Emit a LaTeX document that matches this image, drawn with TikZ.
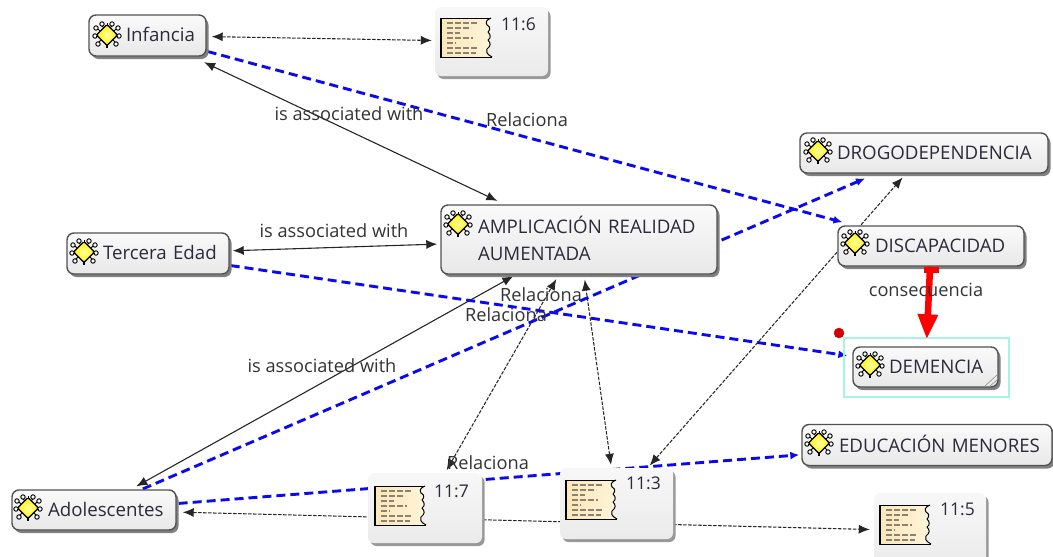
\documentclass[tikz,border=0pt]{standalone}
\usepackage{fontspec}
\setmainfont{Open Sans}
\usetikzlibrary{arrows.meta,shadows,calc}
\pgfdeclarelayer{bg}
\pgfsetlayers{bg,main}
\definecolor{inktext}{HTML}{2B2B3A}
\definecolor{labeltext}{HTML}{333333}
\definecolor{linkblue}{HTML}{0A0AF0}
\definecolor{seltint}{HTML}{A5F5E2}
\definecolor{doctan}{HTML}{FBE6B8}
\definecolor{docpale}{HTML}{FFF5DA}
\definecolor{docdash}{HTML}{8A8272}
\newcommand{\ctext}[2][1.5pt]{\hspace*{37pt}\raisebox{#1}{#2}}
\tikzset{
  x=1pt,y=-1pt,
  conceptbox/.style={draw=black!68,line width=1.4pt,rounded corners=7pt,top color=white!98!black,bottom color=black!9,
    copy shadow={shadow xshift=2.5pt,shadow yshift=-3pt,draw=none,fill=black!50},
    inner sep=0pt,align=left,text=inktext,font=\fontsize{18.7}{27}\selectfont,anchor=center},
  docbox/.style={draw=none,rounded corners=6pt,top color=white!97!black,bottom color=black!8,
    copy shadow={shadow xshift=2.5pt,shadow yshift=-3pt,draw=none,fill=black!40},
    inner sep=0pt,anchor=center},
  doctext/.style={text=inktext,font=\fontsize{17.5}{20}\selectfont,inner sep=0pt},
  linklabel/.style={text=labeltext,font=\fontsize{18.2}{20}\selectfont,inner sep=0pt},
  solidlink/.style={draw=black!85,line width=1.1pt,{Latex[length=11pt,width=9pt]}-{Latex[length=11pt,width=9pt]}},
  dashlink/.style={draw=black!85,line width=1.05pt,dash pattern=on 3.5pt off 1.5pt,{Latex[length=11pt,width=9pt]}-{Latex[length=11pt,width=9pt]}},
  bluelink/.style={draw=linkblue,line width=2.9pt,dash pattern=on 9pt off 5pt,-{Latex[length=9pt,width=8pt]}},
  redlink/.style={draw=red,line width=6.5pt,-{Triangle[length=25pt,width=19pt]}},
  pics/sun/.style={code={
    \foreach \a/\b in {-5/-11,5/-11,-11/-7,11/-7,-12/1,12/1,-9/9,9/9}{
      \draw[black,line width=.95pt,fill=white] (\a,\b) circle (2.2pt);}
    \foreach \a/\b/\c/\d in {-5/-9/-3/-7,5/-9/3/-7,-9/-6/-7/-4,9/-6/7/-4,-11/1/-9/1,11/1/9/1,-8/7/-5/4,8/7/5/4,0/-12/0/-9}{
      \draw[black,line width=1pt] (\a,\b) -- (\c,\d);}
    \draw[black,line width=1.3pt,line join=round,rounded corners=1.5pt,inner color=yellow!35!white,outer color=yellow!90!orange]
      (0,-10.5) -- (10.5,0) -- (0,10.5) -- (-10.5,0) -- cycle;
    \draw[black,line width=1.1pt] (0,10) -- (0,13);
  }},
  pics/doc/.style={code={
    \path[left color=doctan,right color=docpale]
      (0,0) -- (51,0) .. controls (45,3) and (46,4) .. (47,7) .. controls (51,9) and (50,12) .. (48,14)
      .. controls (51,17) and (51,20) .. (48,22) .. controls (51,25) and (51,28) .. (47,31)
      .. controls (46,33) and (46,36) .. (52,39) -- (0,39) -- cycle;
    \draw[black,line width=1pt,line join=round]
      (51,0) .. controls (45,3) and (46,4) .. (47,7) .. controls (51,9) and (50,12) .. (48,14)
      .. controls (51,17) and (51,20) .. (48,22) .. controls (51,25) and (51,28) .. (47,31)
      .. controls (46,33) and (46,36) .. (52,39);
    \draw[black,line width=.9pt] (51,0) -- (0,0) -- (0,39) -- (52,39);
    \draw[black,line width=1.2pt] (1,0) -- (1,39);
    \foreach \yy/\xb in {5/38,10/31,15/20,20/33,25/16,30/38,35/36}{
      \draw[docdash,line width=1.4pt,dash pattern=on 6pt off 2pt] (7,\yy) -- (\xb,\yy);}
  }}
}
\begin{document}
\begin{tikzpicture}
\useasboundingbox (0,0) rectangle (1053,557);
% concept boxes
\node[conceptbox,text width=117pt,minimum height=41pt] (infancia) at (147.5,35.5) {\ctext{Infancia}};
\node[conceptbox,text width=162pt,minimum height=41pt] (tercera) at (148,253.5) {\hspace*{-1pt}\ctext{Tercera Edad}};
\node[conceptbox,text width=276pt,minimum height=69pt] (ampli) at (579,239.5) {\ctext[3pt]{AMPLICACIÓN REALIDAD}\\\ctext[3pt]{AUMENTADA}};
\node[conceptbox,text width=248pt,minimum height=40pt] (drogo) at (924,153) {\ctext{DROGODEPENDENCIA}};
\node[conceptbox,text width=186pt,minimum height=40pt] (disca) at (931,246) {\ctext{DISCAPACIDAD}};
\node[conceptbox,text width=145pt,minimum height=40pt] (demencia) at (925.5,367) {\hspace*{-1pt}\ctext{DEMENCIA}};
\node[conceptbox,text width=250pt,minimum height=41pt] (educa) at (927,445) {\ctext{EDUCACIÓN MENORES}};
\node[conceptbox,text width=164pt,minimum height=40pt] (adole) at (94,510) {\hspace*{-1pt}\ctext{Adolescentes}};
% document boxes
\node[docbox,minimum width=113pt,minimum height=69pt] (d6) at (491.5,41.5) {};
\node[docbox,minimum width=114pt,minimum height=70pt] (d7) at (425,508) {};
\node[docbox,minimum width=113pt,minimum height=71pt] (d3) at (616.5,503.5) {};
\node[docbox,minimum width=112pt,minimum height=76pt] (d5) at (930,531) {};
\pic at (440,18) {doc};
\pic at (374,486) {doc};
\pic at (565,480) {doc};
\pic at (879,505) {doc};
\node[doctext,anchor=west] (t6) at (501,24) {11:6};
\node[doctext,anchor=west] (t7) at (434,491) {11:7};
\node[doctext,anchor=west] (t3) at (626,483) {11:3};
\node[doctext,anchor=west] (t5) at (940,509) {11:5};
% concept icons
\pic at (107,35) {sun};
\pic at (84,252) {sun};
\pic at (458,224) {sun};
\pic at (818,151) {sun};
\pic at (855,243) {sun};
\pic at (870,365) {sun};
\pic at (819,443) {sun};
\pic at (28,508) {sun};
% selection
\node[draw=seltint,line width=1.4pt,minimum width=165pt,minimum height=59pt,inner sep=0pt] (sel) at (926.5,367.5) {};
\draw[black!40,line width=.7pt] (985,386) -- (997,375) (990,386) -- (997,380);
\node[circle,fill=red!85!black,draw=red!60!black,line width=.3pt,minimum size=10pt,inner sep=0pt] (dot) at (839,333) {};
% connectors
\begin{pgfonlayer}{bg}
\draw[solidlink,shorten <=13pt,shorten >=8pt] (infancia) -- (ampli);
\draw[solidlink,shorten <=3pt,shorten >=3pt] (tercera) -- (ampli);
\draw[solidlink,shorten <=6pt,shorten >=3pt] (adole) -- (ampli);
\draw[dashlink,shorten <=5pt,shorten >=3pt] (infancia) -- (d6);
\draw[dashlink,shorten <=3pt,shorten >=5pt] (d7) -- (ampli);
\draw[dashlink,shorten <=3pt,shorten >=5pt] (d3) -- (ampli);
\draw[dashlink,shorten <=3pt,shorten >=5pt] (d3) -- (drogo);
\draw[dashlink,shorten <=6pt,shorten >=4pt] (adole) -- (d5);
\draw[bluelink,shorten <=1pt,shorten >=12pt] (infancia) -- (disca);
\draw[bluelink,shorten <=1pt,shorten >=5pt] (tercera) -- (demencia);
\draw[bluelink,shorten <=1pt,shorten >=12pt] (adole) -- (drogo);
\draw[bluelink,shorten <=2pt,shorten >=2pt] (adole) -- (educa);
\end{pgfonlayer}
\draw[red,line width=15pt] (931,267) -- (931,273);
\draw[redlink,shorten >=7pt] (disca) -- (demencia);
% labels
\node[linklabel] (l1) at (349,114) {is associated with};
\node[linklabel] (l2) at (334,231) {is associated with};
\node[linklabel] (l3) at (322,366) {is associated with};
\node[linklabel] (l4) at (527,120) {Relaciona};
\node[linklabel] (l5) at (541,295) {Relaciona};
\node[linklabel] (l6) at (506,315) {Relaciona};
\node[linklabel] (l7) at (488,463) {Relaciona};
\node[linklabel] (l8) at (926,290) {consecuencia};
\end{tikzpicture}
\end{document}
